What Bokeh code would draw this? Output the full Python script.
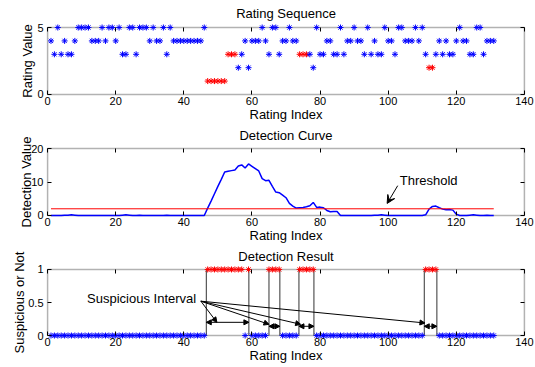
from bokeh.plotting import figure
from bokeh.layouts import column
from bokeh.models import (Range1d, FixedTicker, LinearAxis, BoxAnnotation, Label,
                          Arrow, NormalHead, VeeHead, ColumnDataSource)
from bokeh.embed import file_html
from bokeh.resources import INLINE

FONT = "Liberation Sans"

# ---------------- data ----------------
index = list(range(1, 132))
ratings = [4, 3, 5, 3, 4, 3, 3, 4, 5, 5,
           5, 5, 4, 4, 4, 5, 4, 5, 5, 4,
           5, 3, 3, 5, 5, 3, 5, 5, 5, 4,
           5, 4, 4, 5, 3, 5, 4, 4, 4, 4,
           4, 4, 4, 4, 4, 5, 1, 1, 1, 1,
           1, 1, 3, 3, 3, 2, 3, 4, 2, 4,
           4, 4, 5, 4, 3, 5, 5, 3, 4, 4,
           5, 4, 4, 3, 3, 3, 3, 2, 5, 3,
           3, 4, 4, 3, 3, 5, 3, 4, 4, 5,
           4, 4, 3, 5, 3, 4, 3, 3, 5, 4,
           4, 3, 5, 5, 4, 4, 4, 5, 4, 5,
           3, 2, 2, 3, 4, 3, 4, 3, 3, 4,
           5, 4, 4, 3, 3, 5, 5, 3, 4, 4, 4]
attack_idx = [47, 48, 49, 50, 51, 52, 53, 54, 55, 74, 75, 76, 112, 113]

detection = [0, 0, 0, 0, 0.1, 0.1, 0.2, 0.1, 0, 0,
             0, 0, 0, 0, 0, 0, 0, 0, 0, 0,
             0, 0.1, 0.2, 0.1, 0, 0, 0.05, 0, 0, 0,
             0, 0, 0, 0, 0.1, 0, 0, 0, 0, 0,
             0, 0, 0, 0, 0, 0, 2.2, 4.3, 6.5, 8.7,
             10.8, 13.0, 13.2, 13.4, 13.6, 14.8, 15.1, 14.2, 15.4, 14.7,
             14.0, 13.3, 11.0, 10.4, 10.5, 8.7, 7.0, 6.8, 6.1, 5.3,
             3.6, 2.8, 2.2, 2.3, 2.4, 2.6, 2.9, 3.9, 2.4, 2.5,
             2.3, 1.5, 1.1, 1.2, 1.2, 0, 0, 0, 0, 0,
             0, 0, 0, 0, 0, 0.1, 0.1, 0.2, 0.1, 0,
             0, 0, 0, 0, 0, 0, 0, 0, 0, 0,
             0.2, 1.9, 2.7, 2.8, 2.3, 1.9, 1.7, 1.8, 1.6, 0.4,
             0, 0, 0, 0.1, 0.2, 0.1, 0, 0, 0.1, 0, 0]
threshold = 2.0

suspicious_idx = [47, 48, 49, 50, 51, 52, 53, 54, 55, 56, 57, 59,
                  65, 66, 67, 68, 74, 75, 76, 77, 78, 111, 112, 113, 114]
interval_start = [46.6, 65.0, 73.8, 110.6]
interval_end = [59.1, 68.2, 78.2, 114.3]
interval_arrow_y = [0.2, 0.14, 0.14, 0.14]
pointer_x = [49.7, 65.0, 74.3, 110.8]
pointer_y = [0.2, 0.17, 0.17, 0.19]

x_ticks = [0, 20, 40, 60, 80, 100, 120, 140]
x_lim = (0, 140)

BLUE = "#0000ff"
RED = "#ff0000"


def make_fig(height, top, bottom, ylim, ypad, yticks, ylabels, title, ylabel,
             title_standoff, ylabel_standoff):
    p = figure(width=535, height=height,
               x_range=Range1d(x_lim[0] - 1.2, x_lim[1] + 1.2),
               y_range=Range1d(ylim[0] - ypad, ylim[1] + ypad),
               output_backend="svg", toolbar_location=None,
               x_axis_type=None, y_axis_type=None,
               min_border_left=43, min_border_right=7,
               min_border_top=top, min_border_bottom=bottom,
               title=title)
    p.outline_line_color = None
    p.background_fill_color = "white"
    p.border_fill_color = "white"
    p.title.align = "center"
    p.title.text_font = FONT
    p.title.text_font_size = "13px"
    p.title.text_font_style = "normal"
    p.title.text_color = "black"
    p.title.standoff = title_standoff

    xt = FixedTicker(ticks=x_ticks, minor_ticks=[])
    yt = FixedTicker(ticks=yticks, minor_ticks=[])
    overrides = {t: l for t, l in zip(yticks, ylabels)}

    # label-carrying axes at the frame edges (no tick marks)
    def label_axis(ax):
        ax.axis_line_color = None
        ax.major_tick_line_color = None
        ax.minor_tick_line_color = None
        ax.major_tick_in = 0
        ax.major_tick_out = 0
        ax.major_label_text_font = FONT
        ax.major_label_text_font_size = "11px"
        ax.major_label_text_color = "black"
        ax.axis_label_text_font = FONT
        ax.axis_label_text_font_size = "13px"
        ax.axis_label_text_font_style = "normal"
        ax.axis_label_text_color = "black"

    xb = LinearAxis(ticker=xt, axis_label="Rating Index")
    label_axis(xb)
    xb.major_label_standoff = -2
    xb.axis_label_standoff = -1
    p.add_layout(xb, "below")
    yl = LinearAxis(ticker=yt, axis_label=ylabel, major_label_overrides=overrides)
    label_axis(yl)
    yl.major_label_standoff = 0
    yl.axis_label_standoff = ylabel_standoff
    p.add_layout(yl, "left")

    # tick-carrying axes on the box edges (inward ticks, no labels)
    def tick_axis(ax):
        ax.axis_line_color = None
        ax.major_tick_in = 4
        ax.major_tick_out = 0
        ax.major_tick_line_color = "black"
        ax.major_tick_line_width = 1
        ax.minor_tick_line_color = None
        ax.major_label_text_color = None

    for side, tk, loc in (("below", xt, ylim[0]), ("above", xt, ylim[1]),
                          ("left", yt, x_lim[0]), ("right", yt, x_lim[1])):
        ax = LinearAxis(ticker=tk, fixed_location=loc)
        tick_axis(ax)
        p.add_layout(ax, side)

    box = BoxAnnotation(left=x_lim[0], right=x_lim[1], bottom=ylim[0], top=ylim[1],
                        fill_alpha=0, fill_color=None, line_color="black",
                        line_width=1.5, level="underlay")
    p.add_layout(box)
    return p


# ---------------- top: rating sequence ----------------
p1 = make_fig(124, 23, 26, (0, 5), 0.3, [0, 5], ["0", "5"],
              "Rating Sequence", "Rating Value", 5, -1)
src1 = ColumnDataSource(dict(
    x=index, y=ratings,
    c=[RED if i in attack_idx else BLUE for i in index]))
p1.scatter("x", "y", source=src1, marker="asterisk", size=6,
           line_color="c", line_width=1)

# ---------------- middle: detection curve ----------------
p2 = make_fig(121, 19, 26, (0, 20), 1.2, [0, 10, 20], ["0", "10", "20"],
              "Detection Curve", "Detection Value", 3, -6)
p2.line(index, detection, line_color=BLUE, line_width=1.5)
p2.line([index[0], index[-1]], [threshold, threshold], line_color=RED, line_width=1)
p2.add_layout(Label(x=103.4, y=10.3, text="Threshold", text_font=FONT,
                    text_font_size="13px", text_baseline="middle", text_color="black"))
p2.add_layout(Arrow(x_start=102.8, y_start=8.9, x_end=99.7, y_end=3.6,
                    line_color="black", line_width=1,
                    end=VeeHead(size=8, fill_color="black", line_color="black")))

# ---------------- bottom: detection result ----------------
p3 = make_fig(122, 19, 28, (0, 1), 0.06, [0, 0.5, 1], ["0", "0.5", "1"],
              "Detection Result", "Suspicious or Not", 3, -2)
flags = [1 if i in suspicious_idx else 0 for i in index]
src3 = ColumnDataSource(dict(
    x=index, y=flags,
    c=[RED if f == 1 else BLUE for f in flags]))
p3.segment(x0=interval_start + interval_end, y0=[0] * 8,
           x1=interval_start + interval_end, y1=[1] * 8,
           line_color="#333333", line_width=1)
p3.scatter("x", "y", source=src3, marker="asterisk", size=6,
           line_color="c", line_width=1)

darrow = ColumnDataSource(dict(x0=interval_start, x1=interval_end,
                               y0=interval_arrow_y, y1=interval_arrow_y))
p3.add_layout(Arrow(x_start="x0", y_start="y0", x_end="x1", y_end="y1", source=darrow,
                    line_color="black", line_width=1,
                    start=NormalHead(size=5, fill_color="black", line_color="black"),
                    end=NormalHead(size=5, fill_color="black", line_color="black")))
ptr = ColumnDataSource(dict(x0=[45.0] * 4, y0=[0.52] * 4, x1=pointer_x, y1=pointer_y))
p3.add_layout(Arrow(x_start="x0", y_start="y0", x_end="x1", y_end="y1", source=ptr,
                    line_color="black", line_width=1,
                    end=NormalHead(size=5, fill_color="black", line_color="black")))
p3.add_layout(Label(x=11.6, y=0.56, text="Suspicious Interval", text_font=FONT,
                    text_font_size="13px", text_baseline="middle", text_color="black"))

layout = column(p1, p2, p3, spacing=0)

open("out.html", "w").write(file_html(layout, INLINE))
